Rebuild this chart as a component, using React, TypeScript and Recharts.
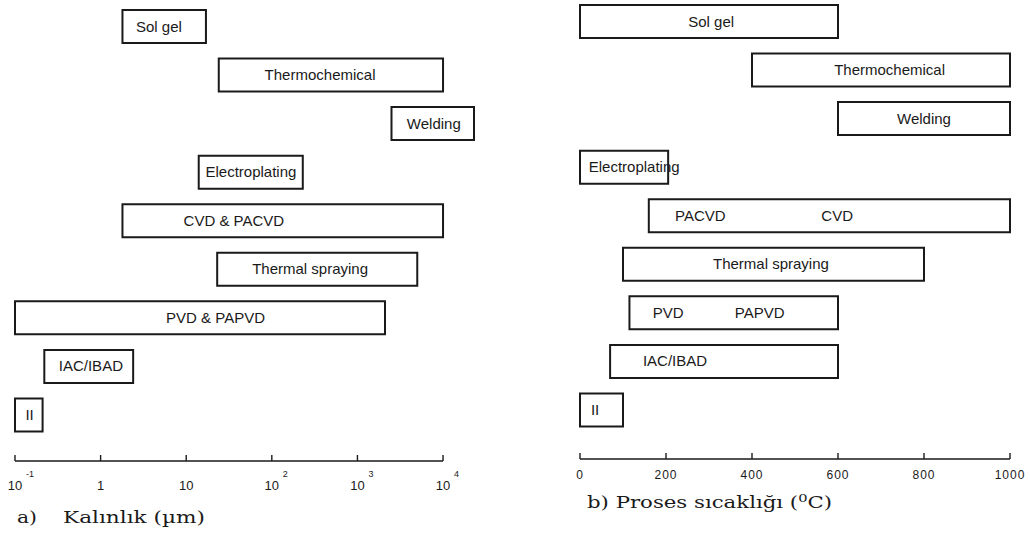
import React from "react";
import { Bar, BarChart, ReferenceDot, ReferenceLine, XAxis, YAxis } from "recharts";

const processes = [
  "Sol gel",
  "Thermochemical",
  "Welding",
  "Electroplating",
  "CVD",
  "Thermal spraying",
  "PVD",
  "IAC/IBAD",
  "II",
];

// a) coating thickness, µm (log axis)
const thicknessRange: [number, number][] = [
  [1.8, 17],
  [24, 10000],
  [2500, 23000],
  [14, 230],
  [1.8, 10000],
  [23, 5000],
  [0.1, 2100],
  [0.22, 2.4],
  [0.1, 0.21],
];
const thicknessTicks = [0.1, 1, 10, 100, 1000, 10000];
// label text and the value it is centred on
const thicknessLabels: [string, number][][] = [
  [["Sol gel", 4.8]],
  [["Thermochemical", 366]],
  [["Welding", 7800]],
  [["Electroplating", 57]],
  [["CVD & PACVD", 36]],
  [["Thermal spraying", 280]],
  [["PVD & PAPVD", 22]],
  [["IAC/IBAD", 0.77]],
  [["II", 0.148]],
];

// b) process temperature, °C
const tempRange: [number, number][] = [
  [0, 600],
  [400, 1000],
  [600, 1000],
  [0, 205],
  [160, 1000],
  [100, 800],
  [115, 600],
  [70, 600],
  [0, 100],
];
const tempTicks = [0, 200, 400, 600, 800, 1000];
const tempLabels: [string, number][][] = [
  [["Sol gel", 305]],
  [["Thermochemical", 720]],
  [["Welding", 800]],
  [["Electroplating", 126]],
  [["PACVD", 280], ["CVD", 598]],
  [["Thermal spraying", 444]],
  [["PVD", 205], ["PAPVD", 418]],
  [["IAC/IBAD", 221]],
  [["II", 35]],
];

const INK = "#1a1a1a";
const SANS = '"Liberation Sans", Arial, sans-serif';

function LogTick(props: any) {
  const { x, y, payload } = props;
  const exp = Math.round(Math.log10(payload.value));
  const base = exp === 0 ? "1" : "10";
  return (
    <g>
      <line x1={x} x2={x} y1={y} y2={y - 6} stroke={INK} strokeWidth={1.4} />
      <text x={x} y={y + 29} textAnchor="middle" fontSize={13} fontFamily={SANS} fill={INK}>
        {base}
      </text>
      {exp !== 0 && exp !== 1 && (
        <text x={x + 11} y={y + 16} fontSize={9} fontFamily={SANS} fill={INK}>
          {exp}
        </text>
      )}
    </g>
  );
}

function LinTick(props: any) {
  const { x, y, payload } = props;
  return (
    <g>
      <line x1={x} x2={x} y1={y} y2={y - 6} stroke={INK} strokeWidth={1.4} />
      <text
        x={x}
        y={y + 20}
        textAnchor="middle"
        fontSize={12}
        letterSpacing={1}
        fontFamily={SANS}
        fill={INK}
      >
        {payload.value}
      </text>
    </g>
  );
}

interface PanelProps {
  width: number;
  height: number;
  margin: { top: number; right: number; bottom: number; left: number };
  padBottom: number;
  scale: "log" | "linear";
  ranges: [number, number][];
  ticks: number[];
  labels: [string, number][][];
  tick: (p: any) => React.ReactElement;
}

function Panel({ width, height, margin, padBottom, scale, ranges, ticks, labels, tick }: PanelProps) {
  const rows = processes.map((p, i) => ({ process: p, range: ranges[i] }));
  const lo = Math.min(...ranges.map((r) => r[0]));
  const hi = Math.max(...ranges.map((r) => r[1]));
  return (
    <BarChart width={width} height={height} layout="vertical" data={rows} margin={margin} barSize={33}>
      <XAxis
        type="number"
        scale={scale}
        domain={[lo, hi]}
        ticks={ticks}
        interval={0}
        axisLine={false}
        tickLine={false}
        tickSize={0}
        tickMargin={0}
        height={40}
        tick={tick}
      />
      <YAxis yAxisId="cat" type="category" dataKey="process" hide padding={{ top: 0, bottom: padBottom }} />
      {/* helper axis so the baseline can stop at the last tick */}
      <YAxis yAxisId="base" type="number" domain={[0, 1]} reversed hide />
      <Bar
        yAxisId="cat"
        dataKey="range"
        fill="#ffffff"
        stroke={INK}
        strokeWidth={2}
        isAnimationActive={false}
      />
      <ReferenceLine
        yAxisId="base"
        segment={[
          { x: ticks[0], y: 0 },
          { x: ticks[ticks.length - 1], y: 0 },
        ]}
        stroke={INK}
        strokeWidth={1.6}
        ifOverflow="visible"
      />
      {labels.flatMap((list, i) =>
        list.map(([text, at]) => (
          <ReferenceDot
            key={`${i}-${text}`}
            yAxisId="cat"
            x={at}
            y={processes[i]}
            r={0}
            fill="none"
            stroke="none"
            ifOverflow="visible"
            label={{ value: text, position: "center", fill: INK, fontSize: 15, fontFamily: SANS }}
          />
        ))
      )}
    </BarChart>
  );
}

export default function App() {
  return (
    <div style={{ position: "absolute", left: 0, top: 0, width: 1030, height: 538, background: "#fff", overflow: "hidden" }}>
      <div style={{ position: "absolute", left: 0, top: 0 }}>
        <Panel
          width={490}
          height={538}
          margin={{ top: 2, right: 16, bottom: 37, left: 15 }}
          padBottom={22}
          scale="log"
          ranges={thicknessRange}
          ticks={thicknessTicks}
          labels={thicknessLabels}
          tick={(p) => <LogTick {...p} />}
        />
      </div>
      <div style={{ position: "absolute", left: 560, top: -4 }}>
        <Panel
          width={470}
          height={542}
          margin={{ top: 1, right: 20, bottom: 39, left: 20 }}
          padBottom={25}
          scale="linear"
          ranges={tempRange}
          ticks={tempTicks}
          labels={tempLabels}
          tick={(p) => <LinTick {...p} />}
        />
      </div>
      <svg width={1030} height={538} style={{ position: "absolute", left: 0, top: 0, pointerEvents: "none" }}>
        <g fontFamily='"DejaVu Serif", serif' fontSize={16} fill={INK}>
          <text x={17} y={523} textLength={20} lengthAdjust="spacingAndGlyphs">
            a)
          </text>
          <text x={63} y={523} textLength={142} lengthAdjust="spacingAndGlyphs">
            Kalınlık (µm)
          </text>
          <text x={587} y={508} textLength={245} lengthAdjust="spacingAndGlyphs">
            b) Proses sıcaklığı (<tspan dy={-6} fontSize={11}>0</tspan>
            <tspan dy={6}>C)</tspan>
          </text>
        </g>
      </svg>
    </div>
  );
}
